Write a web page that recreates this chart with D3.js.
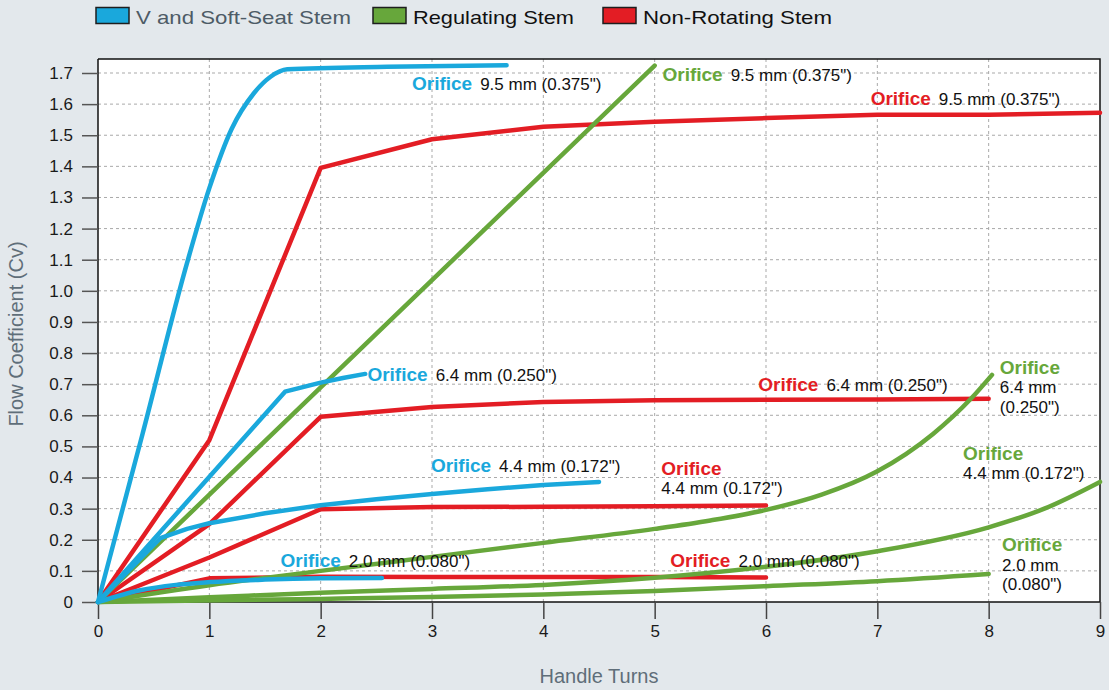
<!DOCTYPE html>
<html><head><meta charset="utf-8">
<script src="https://cdn.jsdelivr.net/npm/d3@7"></script>
<style>
html,body{margin:0;padding:0;background:#e3e8ec;}
svg{display:block;font-family:"Liberation Sans",Arial,sans-serif;}
</style></head>
<body>
<svg id="chart" width="1109" height="690"></svg>
<script>
// ---- data ----
const xTicks = [0,1,2,3,4,5,6,7,8,9];
const yTicks = [0,0.1,0.2,0.3,0.4,0.5,0.6,0.7,0.8,0.9,1.0,1.1,1.2,1.3,1.4,1.5,1.6,1.7];
const legendLabels = ["V and Soft-Seat Stem","Regulating Stem","Non-Rotating Stem"];
const xTitle = "Handle Turns";
const yTitle = "Flow Coefficient (Cv)";

// Non-Rotating Stem (red)
const red95 = [[0,0],[1,0.52],[2,1.395],[3,1.487],[4,1.527],[5,1.543],[6,1.555],[7,1.566],[8,1.566],[9,1.572]];
const red64 = [[0,0],[1,0.25],[2,0.595],[3,0.627],[4,0.643],[5,0.648],[6,0.650],[7,0.651],[8,0.653]];
const red44 = [[0,0],[1,0.143],[2,0.298],[3,0.305],[4,0.306],[5,0.308],[6,0.31]];
const red20 = [[0,0],[1,0.076],[2,0.081],[3,0.08],[4,0.08],[5,0.08],[6,0.079]];
// Regulating Stem (green)
const green95 = [[0,0],[5,1.724]];
const green64 = [[0,0],[1,0.054],[2,0.1],[3,0.145],[4,0.19],[5,0.235],[5.5,0.262],[6,0.296],[6.5,0.345],[7,0.42],[7.5,0.54],[7.84,0.653],[8.03,0.73]];
const green44 = [[0,0],[1,0.015],[2,0.03],[3,0.042],[4,0.055],[5,0.078],[6,0.113],[7,0.163],[8,0.24],[8.5,0.3],[9,0.386]];
const green20 = [[0,0],[2,0.01],[3,0.016],[4,0.024],[5,0.035],[6,0.051],[7,0.067],[8,0.09]];
// V and Soft-Seat Stem (blue)
const blue95 = [[0,0],[0.4,0.54],[0.8,1.09],[1.0,1.33],[1.2,1.52],[1.4,1.635],[1.55,1.688],[1.7,1.712],[2.6,1.72],[3.67,1.725]];
const blue64 = [[0,0],[1.68,0.676],[2.0,0.705],[2.2,0.72],[2.4,0.733]];
const blue44 = [[0,0],[0.56,0.205],[0.8,0.235],[1,0.253],[1.5,0.285],[2,0.311],[2.5,0.33],[3,0.347],[3.5,0.362],[4,0.376],[4.5,0.386]];
const blue20 = [[0,0],[0.38,0.038],[0.7,0.055],[1,0.064],[1.5,0.072],[2,0.076],[2.55,0.077]];

// annotation anchors (data units)
const annotations = [
  {s:"blue", x:2.82, y:1.666, lines:[["Orifice","9.5 mm (0.375\")"]]},
  {s:"green",x:5.07, y:1.695, lines:[["Orifice","9.5 mm (0.375\")"]]},
  {s:"red",  x:6.94, y:1.617, lines:[["Orifice","9.5 mm (0.375\")"]]},
  {s:"blue", x:2.42, y:0.730, lines:[["Orifice","6.4 mm (0.250\")"]]},
  {s:"red",  x:5.93, y:0.698, lines:[["Orifice","6.4 mm (0.250\")"]]},
  {s:"green",x:8.10, y:0.752, lines:[["Orifice"],["","6.4 mm"],["","(0.250\")"]]},
  {s:"blue", x:2.99, y:0.437, lines:[["Orifice","4.4 mm (0.172\")"]]},
  {s:"red",  x:5.06, y:0.428, lines:[["Orifice"],["","4.4 mm (0.172\")"]]},
  {s:"green",x:7.77, y:0.476, lines:[["Orifice"],["","4.4 mm (0.172\")"]]},
  {s:"blue", x:1.64, y:0.132, lines:[["Orifice","2.0 mm (0.080\")"]]},
  {s:"red",  x:5.14, y:0.132, lines:[["Orifice","2.0 mm (0.080\")"]]},
  {s:"green",x:8.12, y:0.183, lines:[["Orifice"],["","2.0 mm"],["","(0.080\")"]]}
];

// ---- styles ----
const colors = {blue:"#1aa8dc", green:"#67a73b", red:"#e31d24"};
const svg = d3.select("#chart");
const L = 98, R = 1100, T = 59, B = 602;
const x = d3.scaleLinear().domain([0,9]).range([L,R]);
const y = d3.scaleLinear().domain([0,1.745]).range([B,T]);

// plot background
svg.append("rect").attr("x",L).attr("y",T).attr("width",R-L).attr("height",B-T).attr("fill","#fff");

// grid
const grid = svg.append("g").attr("stroke","#a9a9a9").attr("stroke-width",1).attr("stroke-dasharray","3,3");
grid.selectAll("line.v").data(xTicks.filter(d=>d>0&&d<9)).join("line")
  .attr("x1",d=>x(d)).attr("x2",d=>x(d)).attr("y1",T).attr("y2",B);
grid.selectAll("line.h").data(yTicks.filter(d=>d>0)).join("line").attr("class","h")
  .attr("x1",L).attr("x2",R).attr("y1",d=>y(d)).attr("y2",d=>y(d));

// border top/right
svg.append("path").attr("d",`M${L},${T}H${R}V${B}`).attr("fill","none").attr("stroke","#111").attr("stroke-width",1.5);

// axes
const yAxis = d3.axisLeft(y).tickValues(yTicks).tickSize(16).tickPadding(9)
  .tickFormat(d=> d===0 ? "0" : d.toFixed(1));
const gy = svg.append("g").attr("transform",`translate(${L},0)`).call(yAxis);
gy.select(".domain").attr("stroke","#111").attr("stroke-width",1.5).attr("d",`M0,${B}V${T}`);
gy.selectAll(".tick line").attr("stroke","#555").attr("stroke-width",1.5);
gy.selectAll(".tick text").attr("font-size",17).attr("fill","#1a1a1a").attr("font-family","Liberation Sans, Arial, sans-serif");

const xAxis = d3.axisBottom(x).tickValues(xTicks).tickSize(17).tickPadding(6).tickFormat(d3.format("d"));
const gx = svg.append("g").attr("transform",`translate(0,${B})`).call(xAxis);
gx.select(".domain").attr("stroke","#111").attr("stroke-width",1.5).attr("d",`M${L},0H${R}`);
gx.selectAll(".tick line").attr("stroke","#444").attr("stroke-width",1.5);
gx.selectAll(".tick text").attr("font-size",17).attr("fill","#1a1a1a").attr("font-family","Liberation Sans, Arial, sans-serif");

// axis titles
svg.append("text").attr("x",(L+R)/2).attr("y",683).attr("text-anchor","middle")
  .attr("font-size",20).attr("fill","#5f6e79").text(xTitle);
svg.append("text").attr("transform",`translate(23,334) rotate(-90)`).attr("text-anchor","middle")
  .attr("font-size",20).attr("fill","#5f6e79").text(yTitle);

// lines
const smooth = d3.line().x(d=>x(d[0])).y(d=>y(d[1])).curve(d3.curveMonotoneX);
const straight = d3.line().x(d=>x(d[0])).y(d=>y(d[1]));
const series = [
  {d:red95,c:"red",g:straight},{d:red64,c:"red",g:straight},{d:red44,c:"red",g:straight},{d:red20,c:"red",g:straight},
  {d:green95,c:"green",g:straight},{d:green64,c:"green",g:smooth},{d:green44,c:"green",g:smooth},{d:green20,c:"green",g:smooth},
  {d:blue95,c:"blue",g:smooth},{d:blue64,c:"blue",g:straight},{d:blue44,c:"blue",g:straight},{d:blue20,c:"blue",g:smooth}
];
const plot = svg.append("g");
plot.selectAll("path").data(series).join("path")
  .attr("d",s=>s.g(s.d)).attr("fill","none").attr("stroke",s=>colors[s.c])
  .attr("stroke-width",4.5).attr("stroke-linecap","round").attr("stroke-linejoin","round");

// annotations
const ann = svg.append("g");
annotations.forEach(a=>{
  a.lines.forEach((ln,i)=>{
    const t = ann.append("text").attr("x",x(a.x)).attr("y",y(a.y)+6+i*19.5);
    if (ln[0]) t.append("tspan").attr("font-weight","bold").attr("font-size",19).attr("fill",colors[a.s]).text(ln[0]);
    if (ln[1]) t.append("tspan").attr("font-size",17).attr("fill","#111").attr("dx",ln[0]?8:0).text(ln[1]);
  });
});

// legend
const legX = [96,373,603];
const legColors = [colors.blue, colors.green, colors.red];
const legText = ["#4d5b66","#111","#111"];
const legW = [215,161,189];
legendLabels.forEach((lab,i)=>{
  svg.append("rect").attr("x",legX[i]).attr("y",7.5).attr("width",33).attr("height",16)
    .attr("fill",legColors[i]).attr("stroke","#1e1e1e").attr("stroke-width",1.5);
  svg.append("text").attr("x",legX[i]+40).attr("y",24).attr("font-size",19).attr("fill",legText[i])
    .attr("textLength",legW[i]).attr("lengthAdjust","spacingAndGlyphs").text(lab);
});
</script>
</body></html>
